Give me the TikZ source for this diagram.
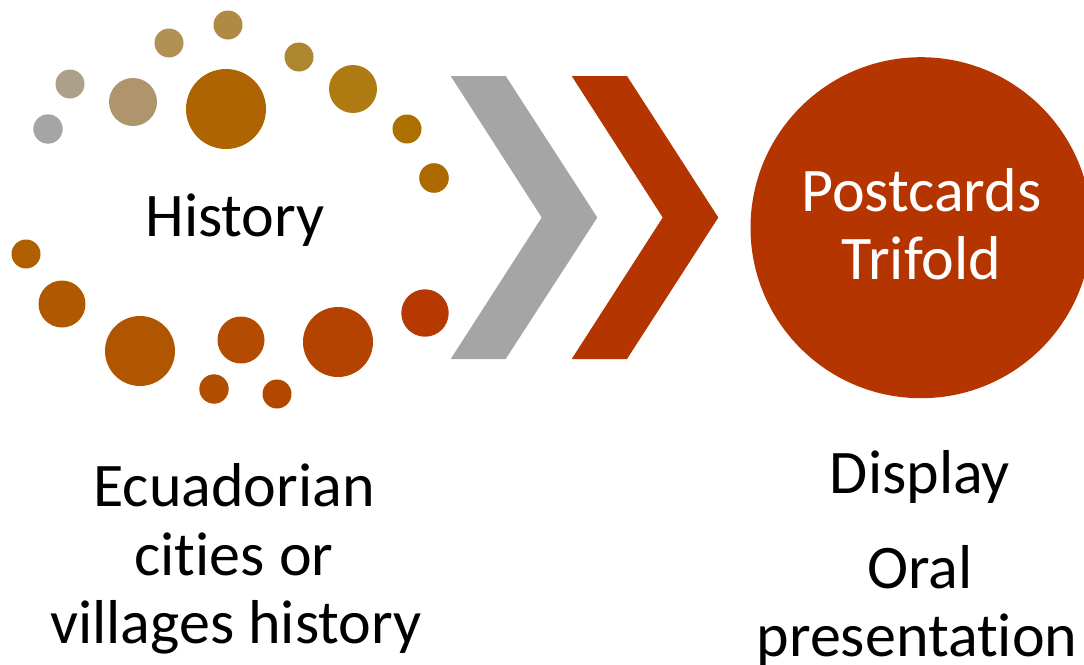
\documentclass[tikz,border=0pt]{standalone}
\usepackage{fontspec}
\setmainfont{Carlito}[Ligatures={NoCommon}]
\definecolor{chevgray}{HTML}{A5A5A5}
\definecolor{rust}{HTML}{B43500}
\begin{document}
\begin{tikzpicture}[x=1pt,y=-1pt,
  dot/.style={circle,inner sep=0pt,minimum size=#1},
  bigtext/.style={font=\fontsize{62}{68}\selectfont,inner sep=0pt,anchor=base}]
\useasboundingbox (0,0) rectangle (1084,664);
% ring of dots around "History"
\node[dot=29.4pt,fill={rgb,255:red,165;green,165;blue,165}] (d1) at (48,129) {};
\node[dot=29pt,fill={rgb,255:red,173;green,160;blue,138}] (d2) at (70,84) {};
\node[dot=48pt,fill={rgb,255:red,174;green,149;blue,107}] (d3) at (133,102) {};
\node[dot=29pt,fill={rgb,255:red,178;green,146;blue,84}] (d4) at (169,43) {};
\node[dot=29pt,fill={rgb,255:red,176;green,138;blue,69}] (d5) at (228,25) {};
\node[dot=80pt,fill={rgb,255:red,174;green,100;blue,0}] (d6) at (226,109) {};
\node[dot=29pt,fill={rgb,255:red,175;green,134;blue,48}] (d7) at (299,57) {};
\node[dot=48pt,fill={rgb,255:red,174;green,122;blue,18}] (d8) at (353,89) {};
\node[dot=29pt,fill={rgb,255:red,173;green,112;blue,0}] (d9) at (407,129) {};
\node[dot=29.6pt,fill={rgb,255:red,173;green,106;blue,0}] (d10) at (434,178) {};
\node[dot=29pt,fill={rgb,255:red,174;green,95;blue,0}] (d11) at (26,254) {};
\node[dot=47pt,fill={rgb,255:red,175;green,88;blue,0}] (d12) at (62,304) {};
\node[dot=70pt,fill={rgb,255:red,176;green,85;blue,0}] (d13) at (140,351) {};
\node[dot=47pt,fill={rgb,255:red,179;green,75;blue,0}] (d14) at (241,340) {};
\node[dot=29.4pt,fill={rgb,255:red,178;green,78;blue,0}] (d15) at (214,389) {};
\node[dot=29pt,fill={rgb,255:red,179;green,71;blue,0}] (d16) at (277,394) {};
\node[dot=70pt,fill={rgb,255:red,180;green,66;blue,0}] (d17) at (338,342) {};
\node[dot=47.4pt,fill={rgb,255:red,181;green,57;blue,0}] (d18) at (425,313) {};
\node[bigtext] (hist) at (235,236.7) {History};
% two chevrons
\fill[chevgray] (450.7,76) -- (505.7,76) -- (597.3,217.5) -- (505.7,359)
  -- (450.7,359) -- (541.7,217.5) -- cycle;
\fill[rust] (571.7,76) -- (627,76) -- (718.3,217.5) -- (627,359)
  -- (571.7,359) -- (662.7,217.5) -- cycle;
% result circle
\node[dot=341pt,fill=rust] (res) at (921,227.7) {};
\node[bigtext,text=white] (res1) at (921.5,211.7) {Postcards};
\node[bigtext,text=white] (res2) at (921.5,279.3) {Trifold};
% captions
\node[bigtext] (c1) at (234,506.7) {Ecuadorian};
\node[bigtext] (c2) at (234,575) {cities or};
\node[bigtext] (c3) at (236,643.3) {villages history};
\node[bigtext] (o1) at (920,493.3) {Display};
\node[bigtext] (o2) at (920,588.3) {Oral};
\node[bigtext] (o3) at (917,656.7) {presentation};
\end{tikzpicture}
\end{document}
